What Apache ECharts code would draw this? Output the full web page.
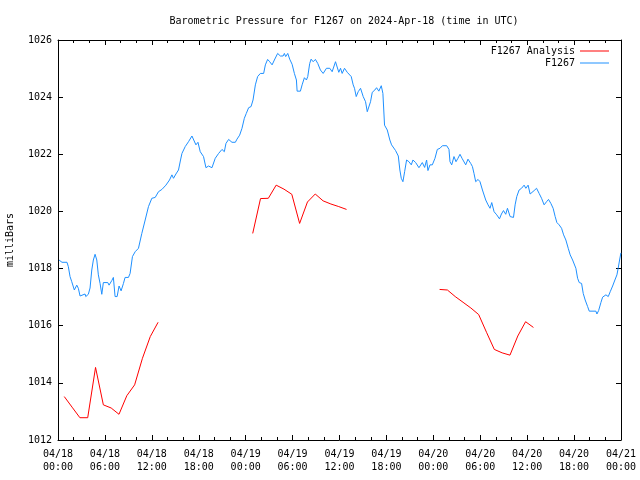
<!DOCTYPE html>
<html>
<head>
<meta charset="utf-8">
<script src="https://cdn.jsdelivr.net/npm/echarts@6/dist/echarts.min.js"></script>
<style>html,body{margin:0;padding:0;background:#fff}#c{width:640px;height:480px}</style>
</head>
<body>
<div id="c"></div>
<script>
// Hours since 2024-04-18 00:00 UTC
var obsHours = [0.13,0.51,1.15,1.32,1.54,1.76,2.09,2.40,2.60,2.82,3.07,3.46,3.55,3.88,4.10,4.32,4.52,4.74,4.96,5.16,5.38,5.60,5.80,6.37,6.53,6.88,7.08,7.30,7.56,7.81,8.07,8.37,8.58,9.01,9.22,9.52,9.87,10.29,10.72,11.15,11.57,12.00,12.43,12.85,13.29,13.80,14.26,14.57,14.77,15.08,15.41,15.67,15.85,16.27,16.69,17.13,17.33,17.64,17.90,18.19,18.61,18.92,19.25,19.69,20.11,20.54,20.97,21.27,21.48,21.82,22.25,22.68,22.89,23.23,23.53,23.83,24.08,24.38,24.69,24.94,25.24,25.53,25.88,26.30,26.52,26.81,27.07,27.38,27.67,28.09,28.44,28.79,28.95,29.12,29.38,29.63,29.94,30.23,30.49,30.58,31.00,31.22,31.51,31.77,31.94,32.19,32.37,32.63,32.92,33.22,33.56,33.91,34.33,34.76,35.06,35.49,35.70,35.91,36.13,36.34,36.64,36.99,37.19,37.50,37.75,37.92,38.14,38.39,38.69,38.91,39.03,39.33,39.55,39.75,39.97,40.19,40.52,40.74,41.03,41.34,41.55,41.76,42.11,42.44,42.66,42.88,43.17,43.52,43.72,43.90,44.11,44.33,44.58,44.88,45.18,45.39,45.74,46.16,46.59,46.89,47.14,47.31,47.57,47.87,48.21,48.51,48.85,49.16,49.71,50.00,50.13,50.35,50.64,50.90,51.15,51.41,51.67,51.92,52.14,52.43,52.78,53.00,53.20,53.42,53.72,53.97,54.28,54.70,55.00,55.25,55.47,55.77,56.11,56.46,56.71,56.97,57.26,57.48,57.82,58.25,58.46,58.67,58.97,59.28,59.61,59.83,60.12,60.38,60.56,60.89,61.20,61.53,61.84,62.17,62.48,62.73,63.03,63.32,63.58,63.80,64.09,64.40,64.66,64.95,65.25,65.50,65.81,65.94,66.23,66.45,66.66,66.96,67.17,67.42,67.73,67.94,68.79,68.92,69.14,69.43,69.65,69.86,70.07,70.37,70.62,70.93,71.22,71.48,71.64,71.82,71.99];
var obsValues = [1018.30,1018.22,1018.22,1018.07,1017.72,1017.54,1017.25,1017.42,1017.31,1017.04,1017.11,1017.11,1017.02,1017.10,1017.32,1017.95,1018.30,1018.50,1018.30,1017.78,1017.48,1017.10,1017.51,1017.51,1017.42,1017.58,1017.69,1017.02,1017.02,1017.39,1017.22,1017.48,1017.69,1017.69,1017.83,1018.42,1018.59,1018.71,1019.23,1019.70,1020.17,1020.46,1020.49,1020.69,1020.77,1020.92,1021.10,1021.28,1021.16,1021.31,1021.45,1021.80,1022.03,1022.27,1022.44,1022.64,1022.62,1022.33,1022.42,1022.09,1021.92,1021.53,1021.59,1021.53,1021.86,1022.03,1022.17,1022.09,1022.38,1022.52,1022.42,1022.42,1022.53,1022.67,1022.91,1023.26,1023.43,1023.63,1023.67,1023.90,1024.43,1024.72,1024.83,1024.83,1025.13,1025.32,1025.24,1025.13,1025.30,1025.53,1025.44,1025.44,1025.53,1025.42,1025.53,1025.33,1025.15,1024.83,1024.60,1024.21,1024.21,1024.43,1024.68,1024.60,1024.72,1025.18,1025.33,1025.24,1025.32,1025.18,1024.95,1024.83,1025.01,1025.01,1024.89,1025.24,1025.18,1024.87,1025.01,1024.83,1025.01,1024.87,1024.90,1024.72,1024.43,1024.31,1024.02,1024.19,1024.31,1024.31,1024.02,1023.84,1023.49,1023.55,1023.84,1024.17,1024.25,1024.33,1024.21,1024.40,1024.13,1023.02,1022.85,1022.50,1022.33,1022.29,1022.13,1021.94,1021.45,1021.16,1021.04,1021.39,1021.80,1021.74,1021.63,1021.80,1021.71,1021.53,1021.71,1021.54,1021.80,1021.43,1021.63,1021.63,1021.86,1022.17,1022.21,1022.30,1022.30,1022.17,1021.74,1021.63,1021.92,1021.74,1021.86,1022.00,1021.86,1021.92,1021.63,1021.83,1021.68,1021.57,1021.33,1021.04,1021.12,1021.04,1020.75,1020.40,1020.23,1020.11,1020.31,1019.99,1019.88,1019.74,1019.91,1020.03,1019.90,1020.11,1019.82,1019.79,1020.23,1020.52,1020.75,1020.81,1020.92,1020.81,1020.92,1020.61,1020.61,1020.73,1020.81,1020.63,1020.46,1020.23,1020.34,1020.42,1020.28,1020.11,1019.82,1019.61,1019.53,1019.41,1019.18,1019.00,1018.71,1018.48,1018.30,1018.24,1018.01,1017.66,1017.51,1017.48,1017.13,1016.90,1016.67,1016.51,1016.51,1016.41,1016.53,1016.81,1017.00,1016.93,1017.08,1017.02,1017.19,1017.39,1017.60,1017.78,1018.01,1018.30,1018.55];

var anaHours1 = [0.8,1.8,2.8,3.8,4.8,5.8,6.8,7.8,8.8,9.8,10.8,11.8,12.8];
var anaValues1 = [1013.52,1013.15,1012.78,1012.78,1014.54,1013.23,1013.12,1012.90,1013.55,1013.93,1014.86,1015.62,1016.12];
var anaHours2 = [24.9,25.9,26.9,27.9,28.9,29.9,30.9,31.9,32.9,33.9,34.9,35.9,36.9];
var anaValues2 = [1019.23,1020.45,1020.46,1020.92,1020.78,1020.60,1019.58,1020.33,1020.61,1020.37,1020.26,1020.17,1020.07];
var anaHours3 = [48.8,49.8,50.8,51.8,52.8,53.8,54.8,55.8,56.8,57.8,58.8,59.8,60.8];
var anaValues3 = [1017.27,1017.25,1017.02,1016.82,1016.62,1016.39,1015.77,1015.17,1015.05,1014.97,1015.64,1016.14,1015.94];

var titleText = 'Barometric Pressure for F1267 on 2024-Apr-18 (time in UTC)';
var yName = 'milliBars';
var startDay = 18;

function pairs(xs, ys) { return xs.map(function (x, i) { return [x, ys[i]]; }); }
function pad(n) { return (n < 10 ? '0' : '') + n; }

var FONT = 'DejaVu Sans Mono';
var txt = { fontFamily: FONT, fontSize: 10, color: '#000' };

function xAx(pos, showLabel) {
  return {
    type: 'value', position: pos, min: 0, max: 72, interval: 6,
    axisLine: { show: true, onZero: false, lineStyle: { color: '#000', width: 1 } },
    axisTick: { show: true, inside: true, length: 5, lineStyle: { color: '#000' } },
    minorTick: { show: true, splitNumber: 3, length: 3, lineStyle: { color: '#000' } },
    splitLine: { show: false },
    axisLabel: {
      show: showLabel, margin: 8, fontFamily: FONT, fontSize: 10, color: '#000', lineHeight: 13,
      formatter: function (v) {
        var d = startDay + Math.floor(v / 24);
        return '04/' + d + '\n' + pad(v % 24) + ':00';
      }
    }
  };
}
function yAx(pos, showLabel) {
  return {
    type: 'value', position: pos, min: 1012, max: 1026, interval: 2,
    name: showLabel ? yName : '', nameLocation: 'middle', nameGap: 43, nameRotate: 90,
    nameTextStyle: txt,
    axisLine: { show: true, onZero: false, lineStyle: { color: '#000', width: 1 } },
    axisTick: { show: true, inside: true, length: 5, lineStyle: { color: '#000' } },
    splitLine: { show: false },
    axisLabel: { show: showLabel, margin: 6, fontFamily: FONT, fontSize: 10, color: '#000',
      formatter: function (v) { return String(v); } }
  };
}

var RED = '#ff0000', BLUE = '#1e90ff';
function anaSeries(xs, ys) {
  return { name: 'F1267 Analysis', type: 'line', data: pairs(xs, ys), showSymbol: false, symbol: 'none',
    color: RED, lineStyle: { color: RED, width: 1 }, animation: false, z: 3 };
}

var chart = echarts.init(document.getElementById('c'), null, { renderer: 'canvas' });
chart.setOption({
  backgroundColor: '#fff',
  animation: false,
  title: { text: titleText, left: 339, top: 11, textAlign: 'center', textStyle: { fontFamily: FONT, fontSize: 10, fontWeight: 'normal', color: '#000' } },
  grid: { left: 58, right: 19, top: 40, bottom: 40, containLabel: false, outerBoundsMode: 'none' },
  legend: [
    { data: ['F1267 Analysis'], right: 31, top: 46, orient: 'vertical', align: 'right', icon: 'rect', itemWidth: 29, itemHeight: 1, padding: 0, textStyle: txt },
    { data: ['F1267'], right: 31, top: 58, orient: 'vertical', align: 'right', icon: 'rect', itemWidth: 29, itemHeight: 1, padding: 0, textStyle: txt }
  ],
  xAxis: [xAx('bottom', true), xAx('top', false)],
  yAxis: [yAx('left', true), yAx('right', false)],
  series: [
    anaSeries(anaHours1, anaValues1),
    anaSeries(anaHours2, anaValues2),
    anaSeries(anaHours3, anaValues3),
    { name: 'F1267', type: 'line', data: pairs(obsHours, obsValues), showSymbol: false, symbol: 'none',
      color: BLUE, lineStyle: { color: BLUE, width: 1 }, animation: false, z: 2 }
  ]
});
</script>
</body>
</html>
